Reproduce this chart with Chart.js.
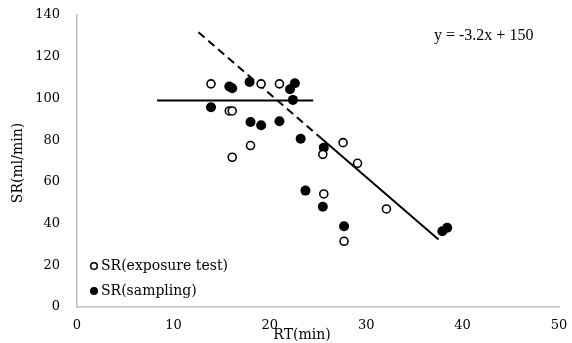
<!DOCTYPE html>
<html>
<head>
<meta charset="utf-8">
<script src="https://cdn.jsdelivr.net/npm/chart.js@4"></script>
<style>body{margin:0;background:#fff}</style>
</head>
<body>
<canvas id="myChart" width="572" height="343"></canvas>
<script>
// values
const exposureRT = [13.9, 19.1, 21.0, 15.8, 16.1, 18.0, 16.1, 27.6, 25.5, 29.1, 25.6, 27.7, 32.1];
const exposureSR = [107, 107, 107, 94, 94, 77.4, 71.8, 78.8, 73.2, 68.9, 54.2, 31.5, 47.0];
const samplingRT = [15.8, 16.1, 17.9, 22.6, 22.1, 22.4, 13.9, 18.0, 19.1, 21.0, 23.2, 25.6, 23.7, 25.5, 27.7, 37.9, 38.4];
const samplingSR = [105.7, 104.9, 107.9, 107.3, 104.4, 99.3, 95.8, 88.7, 87.1, 89.1, 80.7, 76.4, 55.8, 48.1, 38.7, 36.3, 38.0];
const flatRT = [8.3, 24.5];
const flatSR = [99, 99];
const dashRT = [12.6, 25.3];
const dashSR = [131.7, 81.0];
const fitRT = [25.3, 37.5];
const fitSR = [81.0, 32.4];
const xTicks = [0, 10, 20, 30, 40, 50];
const yTicks = [0, 20, 40, 60, 80, 100, 120, 140];
const seriesNames = ['SR(exposure test)', 'SR(sampling)'];
const xTitle = 'RT(min)';
const yTitle = 'SR(ml/min)';
const equation = 'y = -3.2x + 150';

const toPoints = (xs, ys) => xs.map((x, i) => ({x: x, y: ys[i]}));
const serif = '"DejaVu Serif", serif';

const extras = {
    id: 'extras',
    afterDraw(chart) {
        const ctx = chart.ctx;
        ctx.save();
        ctx.fillStyle = '#000';
        ctx.font = '14px ' + serif;
        ctx.textAlign = 'center';
        ctx.textBaseline = 'middle';
        ctx.fillText(xTitle, 302, 335);
        ctx.save();
        ctx.translate(18, 163);
        ctx.rotate(-Math.PI / 2);
        ctx.fillText(yTitle, 0, 0);
        ctx.restore();

        // legend in the lower left corner
        ctx.textAlign = 'left';
        ctx.fillText(seriesNames[0], 101, 266);
        ctx.fillText(seriesNames[1], 101, 291);
        ctx.lineWidth = 1.5;
        ctx.strokeStyle = '#000';
        ctx.beginPath();
        ctx.arc(94, 266, 3.3, 0, Math.PI * 2);
        ctx.fillStyle = '#fff';
        ctx.fill();
        ctx.stroke();
        ctx.beginPath();
        ctx.arc(94, 291, 4, 0, Math.PI * 2);
        ctx.fillStyle = '#000';
        ctx.fill();

        ctx.font = '16px "Liberation Serif", serif';
        ctx.textBaseline = 'alphabetic';
        ctx.fillText(equation, 434, 40);
        ctx.restore();
    }
};

const ctx = document.getElementById('myChart');
new Chart(ctx, {
    type: 'scatter',
    data: {
        datasets: [
            {
                label: seriesNames[0],
                data: toPoints(exposureRT, exposureSR),
                pointRadius: 4,
                pointBorderWidth: 1.6,
                borderColor: '#000',
                backgroundColor: '#fff'
            },
            {
                label: seriesNames[1],
                data: toPoints(samplingRT, samplingSR),
                pointRadius: 5,
                pointBorderWidth: 0,
                borderColor: '#000',
                backgroundColor: '#000'
            },
            {
                type: 'line',
                data: toPoints(flatRT, flatSR),
                borderColor: '#000',
                borderWidth: 2,
                pointRadius: 0,
                fill: false
            },
            {
                type: 'line',
                data: toPoints(dashRT, dashSR),
                borderColor: '#000',
                borderWidth: 2,
                borderDash: [8, 5],
                pointRadius: 0,
                fill: false
            },
            {
                type: 'line',
                data: toPoints(fitRT, fitSR),
                borderColor: '#000',
                borderWidth: 2,
                pointRadius: 0,
                fill: false
            }
        ]
    },
    options: {
        responsive: false,
        animation: false,
        layout: {padding: {top: 15, right: 13, left: 0, bottom: 0}},
        plugins: {legend: {display: false}, tooltip: {enabled: false}},
        scales: {
            x: {
                min: 0,
                max: 50,
                afterBuildTicks: s => { s.ticks = xTicks.map(v => ({value: v})); },
                afterFit: s => { s.height = 36; s.paddingLeft = 0; s.paddingRight = 0; },
                grid: {display: false, drawTicks: false},
                border: {color: '#bfbfbf', width: 1.5},
                ticks: {padding: 11, color: '#000', font: {family: serif, size: 13}}
            },
            y: {
                min: 0,
                max: 140,
                afterBuildTicks: s => { s.ticks = yTicks.map(v => ({value: v})); },
                afterFit: s => { s.width = 77; s.paddingTop = 0; s.paddingBottom = 0; },
                grid: {display: false, drawTicks: false},
                border: {color: '#bfbfbf', width: 1.5},
                ticks: {padding: 17, color: '#000', font: {family: serif, size: 13}}
            }
        }
    },
    plugins: [extras]
});
</script>
</body>
</html>
